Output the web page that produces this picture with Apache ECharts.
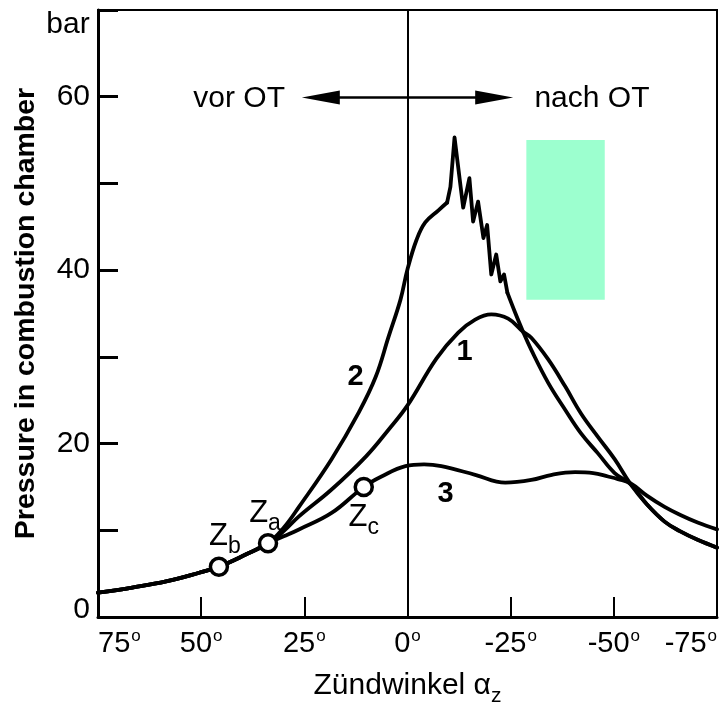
<!DOCTYPE html>
<html>
<head>
<meta charset="utf-8">
<title>Pressure in combustion chamber</title>
<script src="https://cdn.jsdelivr.net/npm/echarts@6/dist/echarts.min.js"></script>
<style>
    html, body { margin: 0; padding: 0; background: #fff; }
    #chart { width: 721px; height: 704px; }
</style>
</head>
<body>
<div id="chart"></div>
<script>
// values: [ignition angle in degrees, pressure in bar]
var commonPart = [[75, 2.8], [66.7, 3.4], [58.5, 4.1], [50.5, 5.1], [45.7, 5.8], [39.2, 7.2], [33.8, 8.5]];

var curve1 = commonPart.concat([
    [30, 9.9], [26.3, 11.6], [18.4, 14.7], [10.1, 18.5], [4.6, 21.6], [0, 24.4],
    [-7, 29.8], [-12.3, 32.8], [-16.4, 34.3], [-20.3, 34.9], [-24.4, 34.4], [-28, 32.9],
    [-30, 32.2], [-34.1, 29.7], [-38.2, 26.6], [-42, 23.5], [-46.1, 20.8], [-50.2, 18.2],
    [-54.1, 15.3], [-58, 13.0], [-62.3, 11.0], [-66, 9.9], [-70.3, 8.9], [-75, 8.0]
]);

// curve 2: smooth rise, knocking spike (sharp), smooth fall
var curve2Rise = commonPart.concat([
    [30, 10.3], [26.3, 12.7], [18.4, 18.2], [11.8, 23.6], [7.7, 27.7], [4.6, 32.3], [1.7, 36.6],
    [0, 40.1], [-2.2, 43.5], [-4.3, 45.5], [-7.5, 46.9], [-9.6, 47.8]
]);
var curve2Spike = [
    [-9.6, 47.8], [-10.4, 49.6], [-11.4, 55.3], [-13.5, 47.2], [-15.0, 50.6], [-15.9, 45.6],
    [-17.1, 47.9], [-18.4, 43.7], [-19.3, 45.2], [-20.3, 39.5], [-21.5, 41.8], [-22.5, 38.7],
    [-23.4, 39.5], [-24.2, 37.4]
];
var curve2Fall = [
    [-24.2, 37.4], [-26, 35.2], [-28, 32.9], [-30, 30.8], [-34.1, 27.0], [-38.2, 23.9], [-42, 21.2],
    [-46.1, 18.9], [-50.2, 16.6], [-54.1, 15.3], [-58, 13.0], [-62.3, 11.0], [-66, 9.9],
    [-70.3, 8.9], [-75, 8.0]
];

var curve3 = commonPart.concat([
    [30, 9.3], [26.3, 10.1], [18.4, 12.0], [10.6, 15.0], [6.3, 16.2], [0.5, 17.4], [-4, 17.6],
    [-8.2, 17.4], [-16.4, 16.4], [-23.7, 15.5], [-30, 15.8], [-35, 16.4], [-40.6, 16.7],
    [-45, 16.6], [-48.6, 16.2], [-51, 15.9], [-54.1, 15.4], [-58, 14.0], [-62.3, 12.7],
    [-66, 11.8], [-70.3, 10.9], [-75, 10.1]
]);

// ignition points Zb, Za, Zc
var ignitionPoints = [[45.7, 5.8], [33.8, 8.5], [10.6, 15.0]];
var ignitionNames = ['b', 'a', 'c'];

// curve numbers and the OT labels
var curveTags = [[-13.8, 30.6, '1'], [12.6, 27.7, '2'], [-9.2, 14.2, '3']];
var otLabels = [[40.8, 59.8, 'vor OT'], [-44.7, 59.8, 'nach OT']];
var otArrow = [21, -21, 59.9];

// shaded box
var greenBox = [[-28.8, 55.0], [-47.8, 36.6]];

var xTicks = [-75, 75, 25];
var yTicks = [0, 70, 10];

var FONT = 'Liberation Sans, Arial, Helvetica, sans-serif';

var myChart = echarts.init(document.getElementById('chart'));

function lineSeries(name, data, smooth) {
    return {
        name: name,
        type: 'line',
        data: data,
        showSymbol: false,
        symbol: 'none',
        smooth: smooth,
        lineStyle: { color: '#000', width: 3.8, join: 'round', cap: 'round' },
        silent: true,
        z: 3
    };
}

var s1 = lineSeries('1', curve1, 0.4);
var s2a = lineSeries('2', curve2Rise, 0.4);
var s2b = lineSeries('2', curve2Spike, false);
var s2c = lineSeries('2', curve2Fall, 0.4);
var s3 = lineSeries('3', curve3, 0.4);

s3.markLine = {
    silent: true,
    symbol: 'none',
    label: { show: false },
    lineStyle: { color: '#000', width: 2, type: 'solid' },
    data: [{ xAxis: 0 }]
};
s1.markLine = {
    silent: true,
    symbol: ['triangle', 'triangle'],
    symbolSize: [14, 38],
    label: { show: false },
    lineStyle: { color: '#000', width: 2.5, type: 'solid' },
    data: [[{ coord: [otArrow[0], otArrow[2]] }, { coord: [otArrow[1], otArrow[2]] }]]
};
s2a.markArea = {
    silent: true,
    itemStyle: { color: '#9cffcf' },
    data: [[{ coord: greenBox[0] }, { coord: greenBox[1] }]]
};

var zOffsets = [[6, -27], [-3, -27], [0, 34]];

var plainLabel = { color: '#000', fontFamily: FONT, textBorderWidth: 0, textShadowBlur: 0 };

var options = {
    animation: false,
    backgroundColor: '#fff',
    textStyle: { fontFamily: FONT, color: '#000' },
    grid: {
        left: 98, right: 4, top: 10, bottom: 87,
        outerBoundsMode: 'none',
        containLabel: false,
        show: true, borderColor: '#000', borderWidth: 2
    },
    xAxis: {
        type: 'value',
        inverse: true,
        min: xTicks[0], max: xTicks[1], interval: xTicks[2],
        name: '{a|Zündwinkel α}{s|z}',
        nameLocation: 'middle',
        nameGap: 54,
        nameTextStyle: {
            rich: {
                a: { fontSize: 30, fontFamily: FONT, color: '#000', verticalAlign: 'bottom', padding: [0, 0, 6, 0] },
                s: { fontSize: 21, fontFamily: FONT, color: '#000', verticalAlign: 'bottom' }
            }
        },
        axisLine: { lineStyle: { color: '#000', width: 3 } },
        axisTick: { inside: true, length: 20, lineStyle: { color: '#000', width: 2 } },
        splitLine: { show: false },
        axisLabel: {
            margin: 11,
            alignMinLabel: 'right',
            alignMaxLabel: 'left',
            formatter: function (v) { return '{n|' + v + '}{d|o}'; },
            rich: {
                n: { fontSize: 29, fontFamily: FONT, color: '#000', verticalAlign: 'bottom' },
                d: { fontSize: 17, fontFamily: FONT, color: '#000', verticalAlign: 'bottom', padding: [0, 0, 13, 1] }
            }
        }
    },
    yAxis: {
        type: 'value',
        min: yTicks[0], max: yTicks[1], interval: yTicks[2],
        name: 'Pressure in combustion chamber',
        nameLocation: 'middle',
        nameGap: 57,
        nameRotate: 90,
        nameTextStyle: { fontSize: 28.5, fontWeight: 'bold', fontFamily: FONT, color: '#000' },
        axisLine: { onZero: false, lineStyle: { color: '#000', width: 3 } },
        axisTick: { inside: true, length: 20, lineStyle: { color: '#000', width: 3 } },
        splitLine: { show: false },
        axisLabel: {
            margin: 8,
            fontSize: 30,
            color: '#000',
            formatter: function (v) {
                if (v === 0) return '{low|0}';
                return (v % 20 === 0 && v < 70) ? String(v) : '';
            },
            rich: {
                low: { fontSize: 30, fontFamily: FONT, color: '#000', padding: [0, 0, 14, 0] }
            }
        }
    },
    graphic: [{
        type: 'text',
        style: { x: 68, y: 25, text: 'bar', align: 'center', verticalAlign: 'middle', font: '30px ' + FONT, fill: '#000' }
    }],
    series: [
        s1, s2a, s2b, s2c, s3,
        {
            type: 'scatter',
            data: ignitionPoints.map(function (p, i) {
                return {
                    value: p,
                    label: { offset: zOffsets[i], formatter: '{z|Z}{s|' + ignitionNames[i] + '}' }
                };
            }),
            symbol: 'circle',
            symbolSize: 17,
            itemStyle: { color: '#fff', borderColor: '#000', borderWidth: 3.5, opacity: 1 },
            label: {
                show: true,
                position: 'inside',
                color: '#000',
                textBorderWidth: 0,
                rich: {
                    z: { fontSize: 31, fontFamily: FONT, color: '#000', verticalAlign: 'bottom', padding: [0, 0, 6, 0] },
                    s: { fontSize: 23, fontFamily: FONT, color: '#000', verticalAlign: 'bottom' }
                }
            },
            silent: true,
            z: 5
        },
        {
            type: 'scatter',
            data: curveTags,
            symbolSize: 0,
            itemStyle: { color: '#000', opacity: 1 },
            label: Object.assign({
                show: true, position: 'inside',
                fontSize: 29, fontWeight: 'bold',
                formatter: function (p) { return p.data[2]; }
            }, plainLabel),
            silent: true
        },
        {
            type: 'scatter',
            data: otLabels,
            symbolSize: 0,
            itemStyle: { color: '#000', opacity: 1 },
            label: Object.assign({
                show: true, position: 'inside',
                fontSize: 30,
                formatter: function (p) { return p.data[2]; }
            }, plainLabel),
            silent: true
        }
    ]
};
myChart.setOption(options);
window.addEventListener('resize', function () {
    myChart.resize();
});
</script>
</body>
</html>
